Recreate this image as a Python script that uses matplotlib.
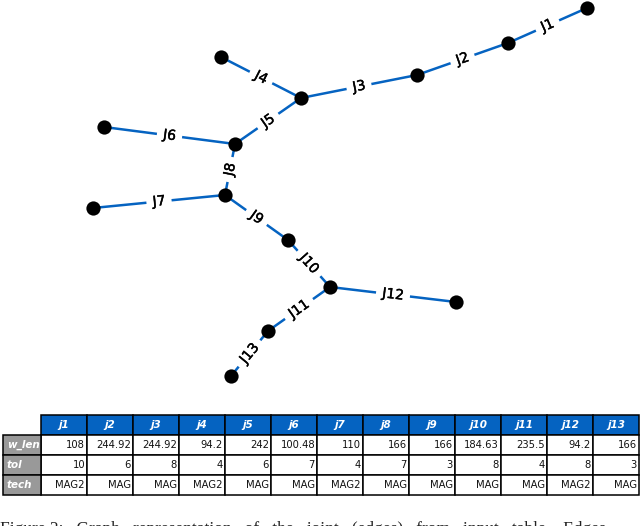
import matplotlib
matplotlib.use("Agg")
import matplotlib.pyplot as plt
import matplotlib.patheffects as pe
import numpy as np

# joints
joints = ["J1","J2","J3","J4","J5","J6","J7","J8","J9","J10","J11","J12","J13"]
w_len = ["108","244.92","244.92","94.2","242","100.48","110","166","166","184.63","235.5","94.2","166"]
tol = ["10","6","8","4","6","7","4","7","3","8","4","8","3"]
tech = ["MAG2","MAG","MAG","MAG2","MAG","MAG","MAG2","MAG","MAG","MAG","MAG","MAG2","MAG"]
row_names = ["w_len","tol","tech"]

# graph, in image pixels
node_x = [587,508,417,301,221,235,104,225,93,288,330,456,268,231]
node_y = [8,43,75,98,57,144,127,195,208,240,287,302,331,376]
edges = [(0,1),(1,2),(2,3),(4,3),(3,5),(6,5),(8,7),(5,7),(7,9),(9,10),(12,10),(10,11),(13,12)]

caption = "Figure 2:   Graph   representation   of   the   joint   (edges)   from   input   table.   Edges"

blue = "#0563c1"
grey = "#999999"

fig = plt.figure(figsize=(6.4,5.26),dpi=100)
ax = fig.add_axes([0,0,1,1])
ax.set_xlim(0,640)
ax.set_ylim(526,0)
ax.axis("off")

for a,b in edges:
    ax.plot([node_x[a],node_x[b]],[node_y[a],node_y[b]],color=blue,lw=1.8,zorder=1)
ax.scatter(node_x,node_y,s=105,color="black",linewidths=0,zorder=3)

for i,(a,b) in enumerate(edges):
    mx = (node_x[a]+node_x[b])/2
    my = (node_y[a]+node_y[b])/2
    ang = np.degrees(np.arctan2(node_y[a]-node_y[b],node_x[b]-node_x[a]))
    if ang>90:
        ang-=180
    if ang<-90:
        ang+=180
    ax.text(mx,my,joints[i],rotation=ang,rotation_mode="anchor",ha="center",va="center",fontsize=10,
            color="black",bbox=dict(facecolor="white",edgecolor="none",pad=4.5),zorder=2,
            path_effects=[pe.withStroke(linewidth=0.3,foreground="black")])

# table
x0 = 41
cw = 46.0
hw = 38
rows_y = [415,435,455,475,495]
for j,name in enumerate(joints):
    l = x0+cw*j
    ax.add_patch(plt.Rectangle((l,rows_y[0]),cw,rows_y[1]-rows_y[0],fc=blue,ec="black",lw=1.1))
    ax.text(l+cw/2,(rows_y[0]+rows_y[1])/2,name.lower(),color="white",style="italic",weight="bold",fontsize=7.5,ha="center",va="center")
    for r,vals in enumerate([w_len,tol,tech]):
        ax.add_patch(plt.Rectangle((l,rows_y[r+1]),cw,rows_y[r+2]-rows_y[r+1],fc="white",ec="black",lw=1.1))
        ax.text(l+cw-2,(rows_y[r+1]+rows_y[r+2])/2,vals[j],color="#111111",fontsize=7.2,ha="right",va="center")
for r,name in enumerate(row_names):
    ax.add_patch(plt.Rectangle((x0-hw,rows_y[r+1]),hw,rows_y[r+2]-rows_y[r+1],fc=grey,ec="black",lw=1.1))
    ax.text(x0-hw+4,(rows_y[r+1]+rows_y[r+2])/2,name,color="white",style="italic",weight="bold",fontsize=7.5,ha="left",va="center")

# caption runs off the bottom of the crop in the reference too
ax.text(0,533,caption,family="Liberation Serif",fontsize=12.5,ha="left",va="baseline",color="#222222")

fig.savefig("out.png",dpi=100)
